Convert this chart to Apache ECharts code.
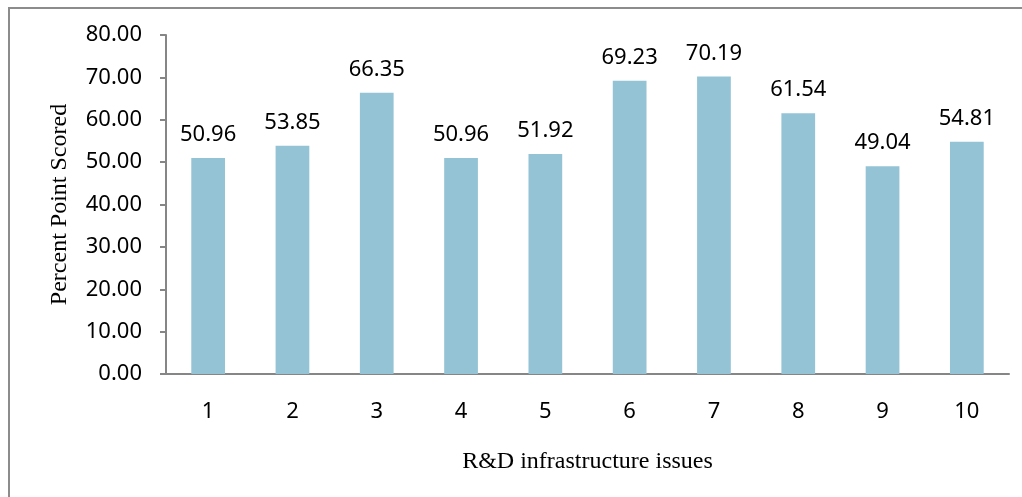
<!DOCTYPE html>
<html>
<head>
<meta charset="utf-8">
<script src="https://cdn.jsdelivr.net/npm/echarts@6/dist/echarts.min.js"></script>
<style>
  html, body { margin: 0; padding: 0; background: #fff; }
  #chart { width: 1022px; height: 497px; }
</style>
</head>
<body>
<div id="chart"></div>
<script>
// categories and scores
var issues = ['1', '2', '3', '4', '5', '6', '7', '8', '9', '10'];
var scores = [50.96, 53.85, 66.35, 50.96, 51.92, 69.23, 70.19, 61.54, 49.04, 54.81];

var chart = echarts.init(document.getElementById('chart'));
var axisGray = '#868686';

var option = {
  animation: false,
  backgroundColor: '#fff',
  graphic: [{
    type: 'rect',
    shape: { x: 9, y: 8, width: 1040, height: 520 },
    style: { fill: 'none', stroke: '#8c8c8c', lineWidth: 2 },
    silent: true
  }],
  grid: { left: 166, right: 13, top: 35, bottom: 123 },
  xAxis: {
    type: 'category',
    data: issues,
    name: 'R&D infrastructure issues',
    nameLocation: 'middle',
    nameGap: 76,
    nameTextStyle: { fontFamily: 'Liberation Serif', fontSize: 24, color: '#000' },
    axisLine: { lineStyle: { color: axisGray, width: 2 } },
    axisTick: { show: false },
    axisLabel: { fontFamily: 'Noto Sans', fontSize: 22, color: '#000', margin: 27 }
  },
  yAxis: {
    type: 'value',
    min: 0,
    max: 80,
    interval: 10,
    name: 'Percent Point Scored',
    nameLocation: 'middle',
    nameGap: 94,
    nameTextStyle: { fontFamily: 'Liberation Serif', fontSize: 24, color: '#000' },
    axisLine: { show: true, lineStyle: { color: axisGray, width: 2 } },
    axisTick: { show: true, length: 6, lineStyle: { color: axisGray, width: 2 } },
    splitLine: { show: false },
    axisLabel: {
      fontFamily: 'Noto Sans', fontSize: 22, color: '#000', margin: 24,
      formatter: function (v) { return v.toFixed(2); }
    }
  },
  series: [{
    type: 'bar',
    data: scores,
    barWidth: '40%',
    itemStyle: { color: '#93c3d4' },
    label: {
      show: true,
      position: 'top',
      distance: 12,
      fontFamily: 'Noto Sans',
      fontSize: 22,
      color: '#000',
      formatter: function (p) { return p.value.toFixed(2); }
    }
  }]
};
chart.setOption(option);
</script>
</body>
</html>
